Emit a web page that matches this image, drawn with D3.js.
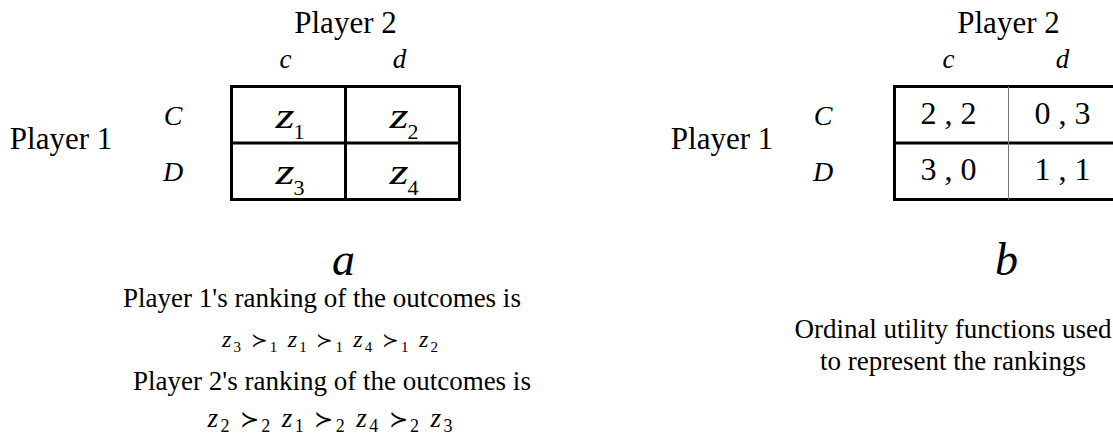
<!DOCTYPE html>
<html lang="en">
<head>
<meta charset="UTF-8" />
<title>Strategic form game</title>
<style>
  body { margin: 0; background: #fff; }
  text { font-family: 'Liberation Serif', 'Times New Roman', serif; fill: #000; }
</style>
<script src="https://cdn.jsdelivr.net/npm/d3@7/dist/d3.min.js"></script>
</head>
<body>
<div class="chart"></div>
<script>
// strategies and outcomes
var rowMoves = ['C', 'D']
var colMoves = ['c', 'd']
var outcomeIds = [[1, 2], [3, 4]]
// ordinal utilities (player 1, player 2)
var payoff1 = [[2, 0], [3, 1]]
var payoff2 = [[2, 3], [0, 1]]
// preference orderings, best first
var ranking1 = [3, 1, 4, 2]
var ranking2 = [2, 1, 4, 3]
var playerNames = ['Player 1', 'Player 2']
var panelLetters = ['a', 'b']
var captionA = ["Player 1's ranking of the outcomes is", "Player 2's ranking of the outcomes is"]
var captionB = ['Ordinal utility functions used', 'to represent the rankings']

var width = 1113
var height = 439
var tw = 228
var th = 113

var svg = d3.select('.chart').append('svg')
  .attr('width', width)
  .attr('height', height)
  .style('display', 'block')

var x = d3.scaleBand().domain(colMoves).range([0, tw])
var y = d3.scaleBand().domain(rowMoves).range([0, th])

function drawTable(left, top, opt) {
  var g = svg.append('g').attr('transform', 'translate(' + left + ',' + top + ')')

  // frame + dividers
  g.append('rect')
    .attr('width', tw).attr('height', th)
    .attr('fill', 'none').attr('stroke', '#000').attr('stroke-width', 3)
  g.append('line')
    .attr('x1', 0).attr('x2', tw)
    .attr('y1', y(rowMoves[1])).attr('y2', y(rowMoves[1]))
    .attr('stroke', '#000').attr('stroke-width', 3)
  g.append('line')
    .attr('x1', x(colMoves[1])).attr('x2', x(colMoves[1]))
    .attr('y1', 0).attr('y2', th)
    .attr('stroke', opt.vColor).attr('stroke-width', opt.vWidth)

  // column labels
  g.selectAll('.col').data(colMoves).enter().append('text')
    .attr('x', d => x(d) + x.bandwidth() / 2 - 3)
    .attr('y', -19)
    .attr('text-anchor', 'middle')
    .attr('font-style', 'italic')
    .attr('font-size', 27)
    .text(d => d)

  // row labels
  g.selectAll('.row').data(rowMoves).enter().append('text')
    .attr('x', opt.rowLabelX)
    .attr('y', d => y(d) + y.bandwidth() / 2 + 10)
    .attr('text-anchor', 'middle')
    .attr('font-style', 'italic')
    .attr('font-size', 28)
    .text(d => d)

  g.append('text')
    .attr('x', tw / 2)
    .attr('y', -54)
    .attr('text-anchor', 'middle')
    .attr('font-size', 31)
    .text(playerNames[1])

  g.append('text')
    .attr('x', opt.playerX)
    .attr('y', th / 2 + 6)
    .attr('text-anchor', 'middle')
    .attr('font-size', 31)
    .text(playerNames[0])

  g.append('text')
    .attr('x', tw / 2 - 2)
    .attr('y', 188)
    .attr('text-anchor', 'middle')
    .attr('font-style', 'italic')
    .attr('font-size', 46)
    .text(opt.letter)

  return g
}

function cells() {
  var out = []
  rowMoves.forEach((r, i) => colMoves.forEach((c, j) => out.push({ r: r, c: c, i: i, j: j })))
  return out
}

// panel a: outcomes
var ga = drawTable(231.5, 86.5, { vColor: '#000', vWidth: 3, rowLabelX: -58.5, playerX: -170.5, letter: panelLetters[0] })
var za = ga.selectAll('.cell').data(cells()).enter().append('g')
  .attr('transform', d => 'translate(' + (x(d.c) + x.bandwidth() / 2) + ',' + (y(d.r) + y.bandwidth() / 2) + ')')
za.append('text')
  .attr('x', -13).attr('y', 13)
  .attr('font-style', 'italic').attr('font-size', 36)
  .attr('textLength', 19).attr('lengthAdjust', 'spacingAndGlyphs')
  .text('z')
za.append('text')
  .attr('x', 5).attr('y', 24)
  .attr('font-size', 22)
  .text(d => outcomeIds[d.i][d.j])

// panel b: payoffs
var gb = drawTable(894.5, 86.5, { vColor: '#777', vWidth: 1, rowLabelX: -71.5, playerX: -172.5, letter: panelLetters[1] })
gb.selectAll('.cell').data(cells()).enter().append('text')
  .attr('x', d => x(d.c) + x.bandwidth() / 2 - 3)
  .attr('y', d => y(d.r) + y.bandwidth() / 2 + 9)
  .attr('text-anchor', 'middle')
  .attr('font-size', 32)
  .text(d => payoff1[d.i][d.j] + ' , ' + payoff2[d.i][d.j])

// captions
function caption(lines, cx, ys) {
  lines.forEach((t, k) => {
    svg.append('text')
      .attr('x', cx[k]).attr('y', ys[k])
      .attr('text-anchor', 'middle')
      .attr('font-size', 27)
      .text(t)
  })
}
caption(captionA, [322, 332], [307, 390])
caption(captionB, [953, 953], [338, 370])

function rankingLine(order, who, cx, base, zSize, subSize, shift, len) {
  var t = svg.append('text')
    .attr('x', cx).attr('y', base)
    .attr('text-anchor', 'middle')
    .attr('font-size', zSize)
    .attr('textLength', len)
    .attr('lengthAdjust', 'spacing')
  order.forEach((o, k) => {
    t.append('tspan').attr('font-style', 'italic').attr('dy', k ? -shift : 0).text((k ? ' ' : '') + 'z')
    t.append('tspan').attr('font-size', subSize).attr('dy', shift).text(o)
    if (k < order.length - 1) {
      t.append('tspan').attr('dy', -shift).attr('font-size', zSize * 0.85).text(' \u227B')
      t.append('tspan').attr('font-size', subSize).attr('dy', shift).text(who)
    }
  })
}
rankingLine(ranking1, 1, 330, 347, 24, 15, 5, 216)
rankingLine(ranking2, 2, 330, 427, 27, 18, 5, 245)
</script>
</body>
</html>
